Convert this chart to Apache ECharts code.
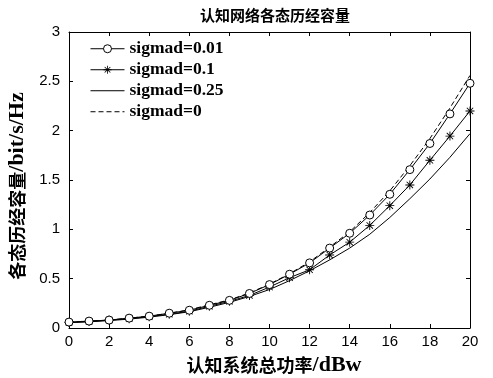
<!DOCTYPE html>
<html>
<head>
<meta charset="utf-8">
<script src="https://cdn.jsdelivr.net/npm/echarts@6/dist/echarts.min.js"></script>
<style>html,body{margin:0;padding:0;background:#fff}#c{width:493px;height:378px}</style>
</head>
<body>
<div id="c"></div>
<script>
var xs = [0,1,2,3,4,5,6,7,8,9,10,11,12,13,14,15,16,17,18,19,20];
var names = ['sigmad=0.01','sigmad=0.1','sigmad=0.25','sigmad=0'];
var s001 = [0.06,0.07,0.08,0.10,0.12,0.15,0.18,0.23,0.28,0.35,0.44,0.545,0.66,0.81,0.96,1.145,1.355,1.605,1.87,2.17,2.48];
var s01  = [0.055,0.065,0.08,0.095,0.115,0.14,0.17,0.22,0.27,0.33,0.415,0.51,0.59,0.74,0.87,1.04,1.24,1.45,1.70,1.945,2.20];
var s025 = [0.055,0.063,0.075,0.09,0.11,0.135,0.165,0.21,0.26,0.32,0.39,0.48,0.58,0.69,0.81,0.95,1.12,1.31,1.51,1.73,1.97];
var s0   = [0.06,0.07,0.08,0.10,0.12,0.15,0.185,0.235,0.285,0.355,0.445,0.55,0.67,0.82,0.975,1.17,1.39,1.645,1.92,2.23,2.56];
var xTicks = [0,2,4,6,8,10,12,14,16,18,20];
var yTicks = [0,0.5,1,1.5,2,2.5,3];

function pairs(ys){ return xs.map(function(x,i){ return [x, ys[i]]; }); }
var star = 'path://M9,0h2v20h-2z M0,9h20v2h-20z M2.2,3.6l1.4,-1.4l14.2,14.2l-1.4,1.4z M16.4,2.2l1.4,1.4l-14.2,14.2l-1.4,-1.4z';
var serif = '"Liberation Serif","Noto Sans CJK SC"';
var cjk = '"Noto Sans CJK SC"';
var sans = '"Liberation Sans",Arial,sans-serif';

var chart = echarts.init(document.getElementById('c'), null, {renderer:'canvas'});
var axisCommon = {
  axisLine:{show:true, onZero:false, lineStyle:{color:'#000', width:1}},
  axisTick:{show:true, inside:true, length:4, lineStyle:{color:'#000'}},
  splitLine:{show:false}
};
var hidden = {color:'rgba(0,0,0,0)', borderColor:'rgba(0,0,0,0)', borderWidth:0};
var thin = {color:'#000', width:1};
var nameRich = {
  a:{fontFamily:cjk, fontWeight:'bold', fontSize:18, color:'#000'},
  b:{fontFamily:'"Liberation Serif"', fontWeight:'bold', fontSize:22, color:'#000'}
};
chart.setOption({
  animation:false,
  backgroundColor:'#fff',
  color:['#000','#000','#000','#000'],
  title:{text:'认知网络各态历经容量', left:270, textAlign:'center', top:3,
    textStyle:{fontFamily:cjk, fontWeight:'bold', fontSize:15, color:'#000'}},
  grid:{left:69, right:23, top:32, bottom:50, containLabel:false, outerBoundsMode:'none'},
  legend:{orient:'vertical', left:85, top:35, itemGap:3.5, itemWidth:34, itemHeight:10, itemTextGap:3,
    lineStyle:{width:1},
    data:[{name:names[0], lineStyle:thin, itemStyle:{color:'#fff', borderColor:'#000', borderWidth:1}},
          {name:names[1], lineStyle:thin},
          {name:names[2], itemStyle:hidden},{name:names[3], itemStyle:hidden}],
    textStyle:{fontFamily:serif, fontWeight:'bold', fontSize:17.5, color:'#000'}},
  xAxis:[
    Object.assign({type:'value', min:0, max:20, interval:2, position:'bottom',
      axisLabel:{color:'#000', fontFamily:sans, fontSize:15, margin:6,
        formatter:function(v){ return xTicks.indexOf(v)>=0 ? String(v) : ''; }},
      name:'{a|认知系统总功率}{b|/dBw}', nameLocation:'middle', nameGap:25,
      nameTextStyle:{color:'#000', padding:[0,0,0,9], rich:nameRich}}, axisCommon),
    Object.assign({type:'value', min:0, max:20, interval:2, position:'top',
      axisLabel:{show:false}}, axisCommon)
  ],
  yAxis:[
    Object.assign({type:'value', min:0, max:3, interval:0.5, position:'left',
      axisLabel:{color:'#000', fontFamily:sans, fontSize:15, margin:9,
        formatter:function(v){ return yTicks.indexOf(v)>=0 ? String(v) : ''; }},
      name:'{a|各态历经容量}{b|/bit/s/Hz}', nameLocation:'middle', nameGap:36, nameRotate:90,
      nameTextStyle:{color:'#000', padding:[0,12,0,0], rich:nameRich}}, axisCommon),
    Object.assign({type:'value', min:0, max:3, interval:0.5, position:'right',
      axisLabel:{show:false}}, axisCommon)
  ],
  series:[
    {name:names[0], type:'line', data:pairs(s001), symbol:'circle', symbolSize:8, showAllSymbol:true,
      color:'#000', lineStyle:{color:'#000', width:1}, itemStyle:{color:'#fff', borderColor:'#000', borderWidth:1}, z:4},
    {name:names[1], type:'line', data:pairs(s01), symbol:star, symbolSize:9, showAllSymbol:true,
      color:'#000', lineStyle:{color:'#000', width:1}, itemStyle:{color:'#000', borderWidth:0}, z:3},
    {name:names[2], type:'line', data:pairs(s025), symbol:'none', showSymbol:false,
      color:'#000', lineStyle:{color:'#000', width:1}, itemStyle:{color:'#000'}, z:2},
    {name:names[3], type:'line', data:pairs(s0), symbol:'none', showSymbol:false,
      color:'#000', lineStyle:{color:'#000', width:1, type:[5,3]}, itemStyle:{color:'#000'}, z:2}
  ]
});
</script>
</body>
</html>
